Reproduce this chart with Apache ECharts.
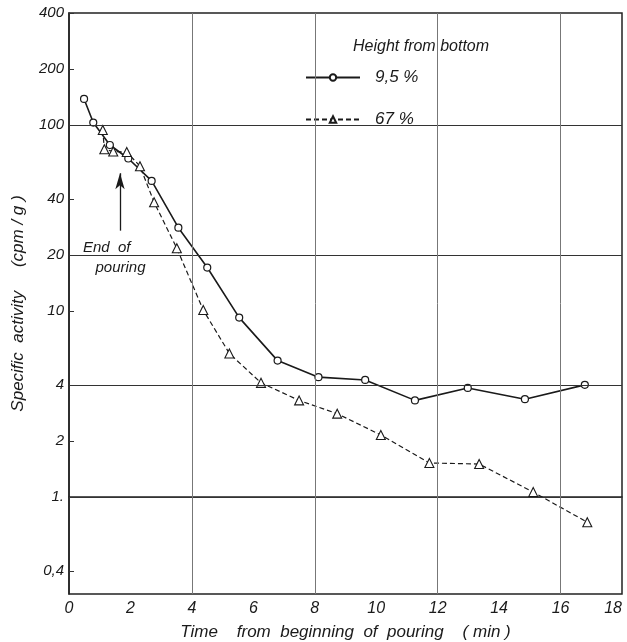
<!doctype html>
<html>
    <head>
        <meta charset="utf-8">
        <title>Specific activity vs time</title>
        <style>
            html, body { margin: 0; padding: 0; background: #fff; }
            #main { width: 627px; height: 642px; }
        </style>
    </head>
    <body>
        <div id="main"></div>
        <script src="https://cdn.jsdelivr.net/npm/echarts@6/dist/echarts.min.js"></script>
        <script>
            // readings (time in min, activity in cpm/g)
            var circleTime = [0.49, 0.79, 1.33, 1.93, 2.69, 3.56, 4.50, 5.54, 6.79, 8.12, 9.64, 11.26, 12.98, 14.84, 16.79];
            var circleActivity = [138, 103, 78, 66, 50, 28, 17.1, 9.2, 5.4, 4.4, 4.25, 3.3, 3.85, 3.35, 4.0];

            var triangleTime = [1.10, 1.15, 1.44, 1.88, 2.31, 2.77, 3.51, 4.37, 5.22, 6.25, 7.49, 8.73, 10.15, 11.73, 13.35, 15.11, 16.87];
            var triangleActivity = [94, 74, 72, 71.5, 60, 38.4, 21.7, 10.1, 5.9, 4.1, 3.3, 2.8, 2.15, 1.52, 1.5, 1.06, 0.73];

            var seriesNames = ['9,5 %', '67 %'];

            var yTickValues = [0.4, 1, 2, 4, 10, 20, 40, 100, 200, 400];
            var yTickLabels = ['0,4', '1.', '2', '4', '10', '20', '40', '100', '200', '400'];
            var yGridValues = [1, 4, 20, 100];
            var xGridValues = [4, 8, 12, 16];

            var endOfPouring = { time: 1.66, from: 27, to: 55 };

            var font = 'Liberation Sans';
            var ink = '#1a1a1a';

            function lg(v) { return Math.log10(v); }

            function pairs(xs, ys) {
                return xs.map(function (x, i) { return [x, lg(ys[i])]; });
            }

            var gridLines = yGridValues.map(function (v) {
                return { yAxis: lg(v), lineStyle: { color: '#333', width: 1.2, type: 'solid' } };
            }).concat(xGridValues.map(function (v) {
                return { xAxis: v, lineStyle: { color: '#777', width: 1, type: 'solid' } };
            }));

            var chart = echarts.init(document.getElementById('main'));

            chart.setOption({
                animation: false,
                title: {
                    text: 'Height from bottom',
                    left: 348,
                    top: 34,
                    textStyle: { fontFamily: font, fontStyle: 'italic', fontWeight: 'normal', fontSize: 16, color: ink }
                },
                legend: {
                    orient: 'vertical',
                    left: 300,
                    top: 64,
                    itemWidth: 54,
                    itemHeight: 8,
                    itemGap: 25,
                    data: seriesNames,
                    textStyle: { fontFamily: font, fontStyle: 'italic', fontSize: 17, color: ink, padding: [0, 0, 0, 10] }
                },
                grid: {
                    left: 69,
                    right: 5,
                    top: 13,
                    bottom: 48,
                    outerBoundsMode: 'none',
                    containLabel: false,
                    show: true,
                    borderColor: '#222',
                    borderWidth: 1.5,
                    backgroundColor: 'transparent'
                },
                xAxis: {
                    type: 'value',
                    min: 0,
                    max: 18,
                    interval: 2,
                    name: 'Time    from  beginning  of  pouring    ( min )',
                    nameLocation: 'middle',
                    nameGap: 30,
                    nameTextStyle: { fontFamily: font, fontStyle: 'italic', fontSize: 17, color: ink },
                    axisLine: { lineStyle: { color: '#222', width: 1.5 } },
                    axisTick: { show: false },
                    splitLine: { show: false },
                    axisLabel: { fontFamily: font, fontStyle: 'italic', fontSize: 16, color: ink, margin: 7, alignMaxLabel: 'right' }
                },
                yAxis: {
                    type: 'value',
                    min: lg(0.3),
                    max: lg(400),
                    name: 'Specific  activity     (cpm / g )',
                    nameLocation: 'middle',
                    nameGap: 42,
                    nameTextStyle: { fontFamily: font, fontStyle: 'italic', fontSize: 17, color: ink },
                    axisLine: { lineStyle: { color: '#222', width: 1.5 } },
                    axisTick: {
                        show: true,
                        inside: true,
                        length: 5,
                        customValues: yTickValues.map(lg),
                        lineStyle: { color: '#333' }
                    },
                    splitLine: { show: false },
                    axisLabel: {
                        customValues: yTickValues.map(lg),
                        fontFamily: font,
                        fontStyle: 'italic',
                        fontSize: 15,
                        color: ink,
                        margin: 5,
                        formatter: function (v) {
                            for (var i = 0; i < yTickValues.length; i++) {
                                if (Math.abs(lg(yTickValues[i]) - v) < 1e-6) return yTickLabels[i];
                            }
                            return '';
                        }
                    }
                },
                graphic: [{
                    type: 'text',
                    left: 83,
                    top: 238,
                    style: {
                        text: 'End  of\n   pouring',
                        font: 'italic 15px "Liberation Sans"',
                        fill: ink,
                        lineHeight: 20
                    }
                }],
                series: [{
                    name: seriesNames[0],
                    type: 'line',
                    data: pairs(circleTime, circleActivity),
                    symbol: 'circle',
                    symbolSize: 7,
                    showAllSymbol: true,
                    lineStyle: { color: ink, width: 1.6, type: 'solid' },
                    itemStyle: { color: '#fff', borderColor: ink, borderWidth: 1.2 },
                    markLine: {
                        silent: true,
                        symbol: 'none',
                        label: { show: false },
                        data: gridLines
                    },
                    z: 3
                }, {
                    name: seriesNames[1],
                    type: 'line',
                    data: pairs(triangleTime, triangleActivity),
                    symbol: 'triangle',
                    symbolSize: 9,
                    showAllSymbol: true,
                    lineStyle: { color: ink, width: 1.2, type: [5, 3] },
                    itemStyle: { color: '#fff', borderColor: ink, borderWidth: 1.1 },
                    markLine: {
                        silent: true,
                        label: { show: false },
                        lineStyle: { color: ink, width: 1.3, type: 'solid' },
                        data: [[
                            { coord: [endOfPouring.time, lg(endOfPouring.from)], symbol: 'none' },
                            { coord: [endOfPouring.time, lg(endOfPouring.to)], symbol: 'arrow', symbolSize: [7, 16] }
                        ]]
                    },
                    z: 3
                }]
            });

            window.addEventListener('resize', function () {
                chart.resize();
            });
        </script>
    </body>
</html>
